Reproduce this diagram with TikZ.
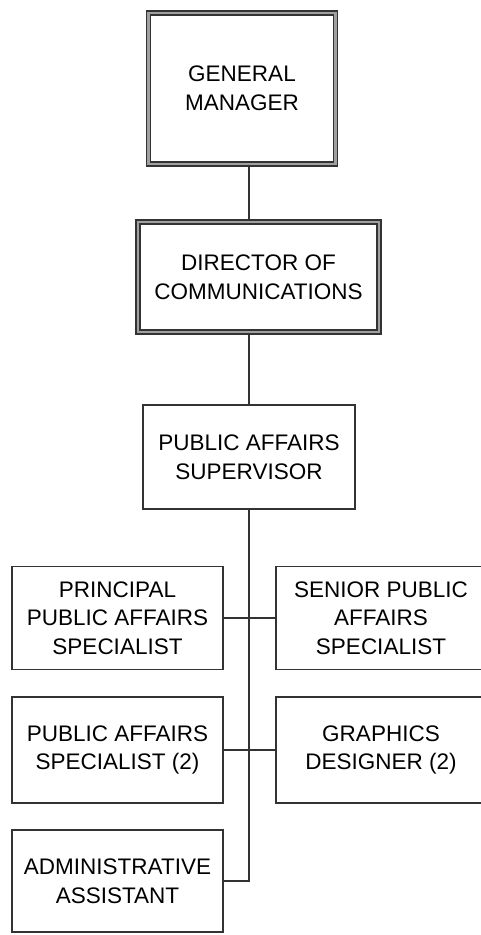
\documentclass[tikz,border=0pt]{standalone}
\usepackage{fontspec}
\setmainfont{Liberation Sans}
\usepackage{xcolor}
\usepackage{tikz}
\usetikzlibrary{calc,positioning}
\definecolor{lineclr}{HTML}{333333}
\definecolor{dblclr}{HTML}{A0A0A0}
\tikzset{
  post/.style={draw=lineclr, line width=1.5pt, fill=white, align=center,
    inner sep=0pt, font=\fontsize{22.5}{28.5}\selectfont},
  postdbl/.style={post, line width=1.2pt, double=dblclr, double distance=2.8pt},
  link/.style={draw=lineclr, line width=1.4pt},
}
\begin{document}
\begin{tikzpicture}[x=1pt, y=-1pt]
\useasboundingbox (0,0) rectangle (481,935);

%% =====================================================================
%% Top of the chart
%% =====================================================================
\node[postdbl, minimum width=187pt, minimum height=151pt] (gm) at (242, 88.5) {GENERAL\\MANAGER};
\node[postdbl, minimum width=241pt, minimum height=110pt] (dir) at (258.5, 277) {DIRECTOR OF\\COMMUNICATIONS};
\node[post, minimum width=212pt, minimum height=104pt] (sup) at (249, 457) {PUBLIC AFFAIRS\\SUPERVISOR};

%% =====================================================================
%% Staff under the supervisor
%% =====================================================================
\node[post, minimum width=211pt, minimum height=103pt] (prin) at (117.5, 618) {PRINCIPAL\\PUBLIC AFFAIRS\\SPECIALIST};
\node[post, minimum width=210pt, minimum height=103pt] (snr) at (381, 618) {SENIOR PUBLIC\\AFFAIRS\\SPECIALIST};
\node[post, minimum width=211pt, minimum height=106pt] (spec) at (117.5, 750) {PUBLIC AFFAIRS\\SPECIALIST (2)};
\node[post, minimum width=210pt, minimum height=106pt] (gfx) at (381, 750) {GRAPHICS\\DESIGNER (2)};
\node[post, minimum width=211pt, minimum height=102pt] (adm) at (117.5, 881) {ADMINISTRATIVE\\ASSISTANT};

\draw[link] (sup.north |- gm.south) -- (sup.north |- dir.north);
\draw[link] (sup.north |- dir.south) -- (sup.north);
\draw[link] (sup.south) -- (sup.south |- adm.east) -- (adm.east);
\draw[link] (prin.east) -- (snr.west);
\draw[link] (spec.east) -- (gfx.west);

\end{tikzpicture}
\end{document}
